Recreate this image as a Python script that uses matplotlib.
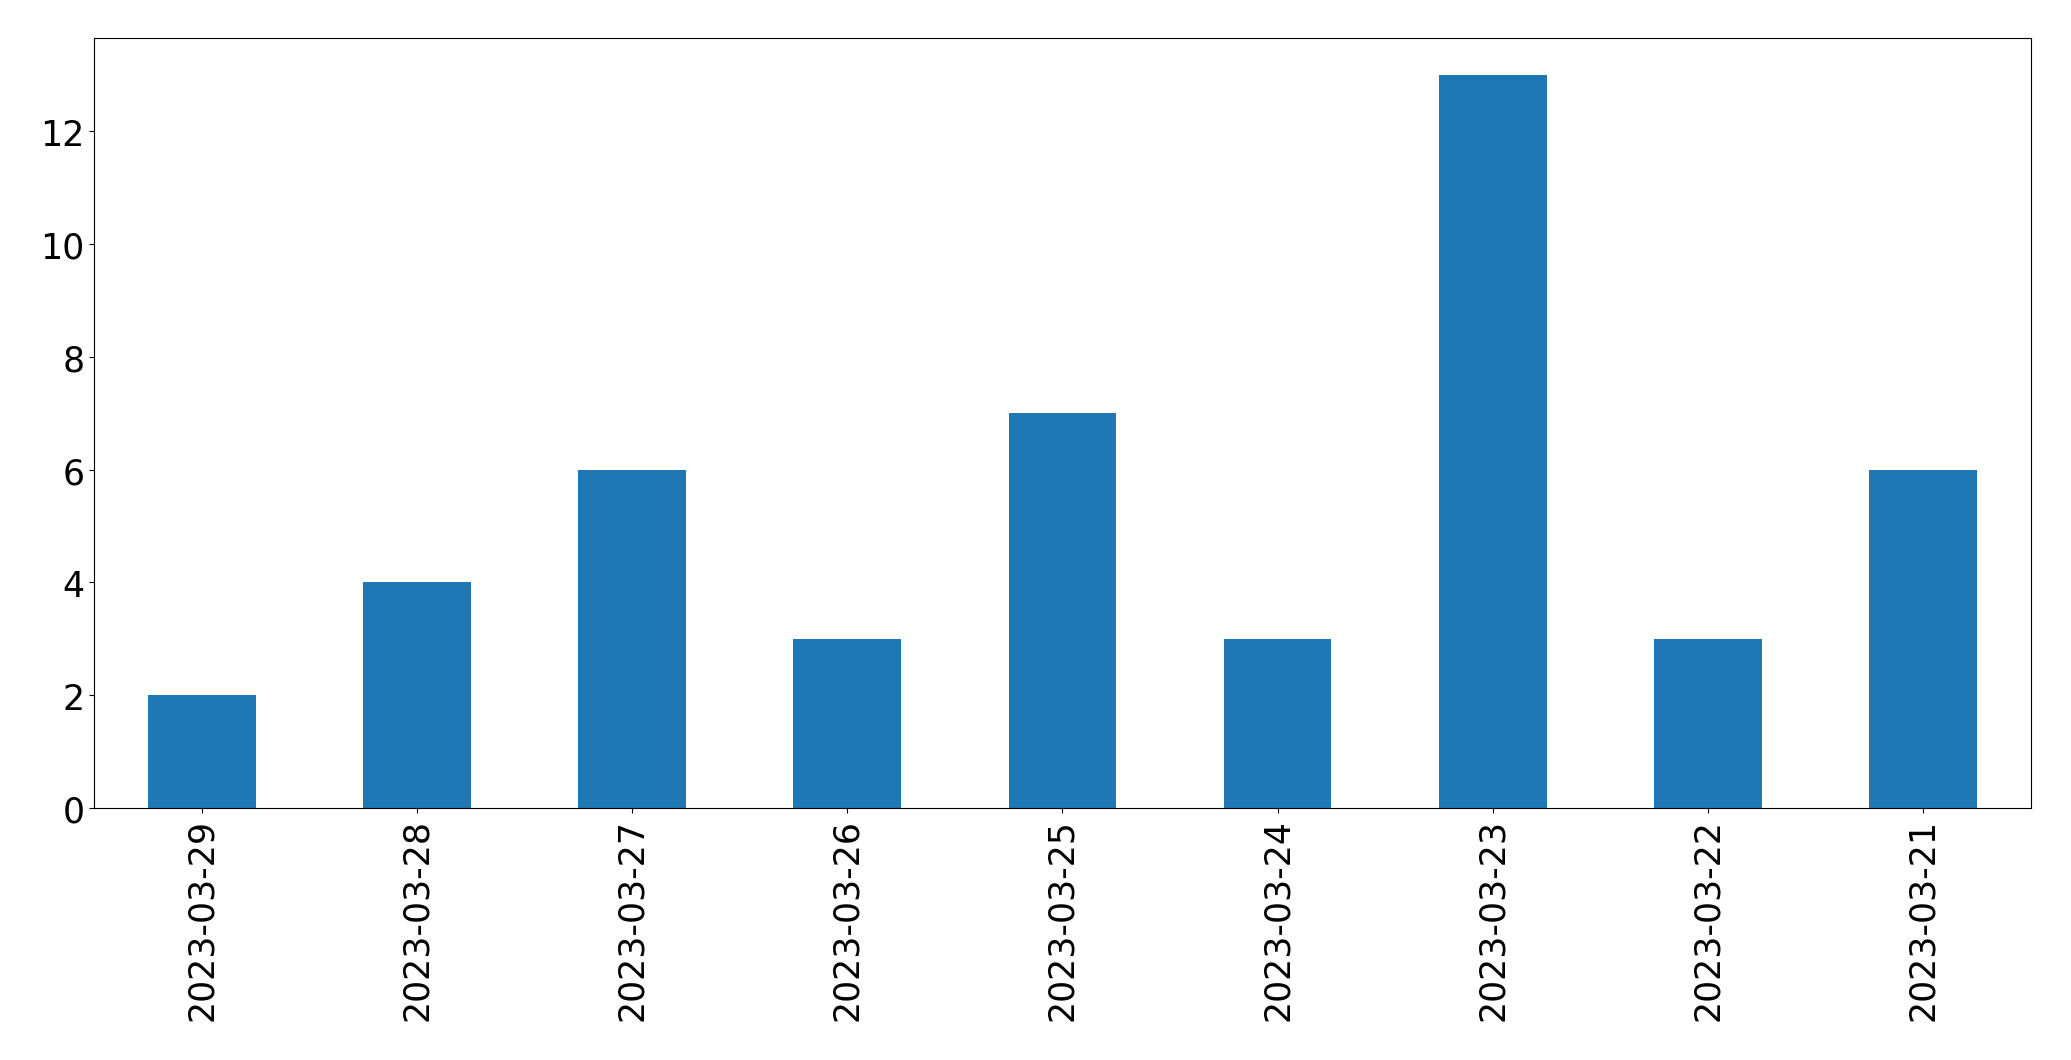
import pandas as pd
from matplotlib import pyplot as plt

dates = ['2023-03-29', '2023-03-28', '2023-03-27', '2023-03-26', '2023-03-25',
         '2023-03-24', '2023-03-23', '2023-03-22', '2023-03-21']
counts = [2, 4, 6, 3, 7, 3, 13, 3, 6]

s = pd.Series(counts, index=dates)

plt.rcParams.update({'font.size': 25})
fig = plt.figure(figsize=(20.71, 10.6099), dpi=100)
ax = fig.add_axes([0.0455, 0.2375, 0.935, 0.7255])
s.plot(kind='bar', ax=ax, color='#1f77b4')
ax.tick_params(labelsize=25)
plt.savefig('out.png', dpi=100)
